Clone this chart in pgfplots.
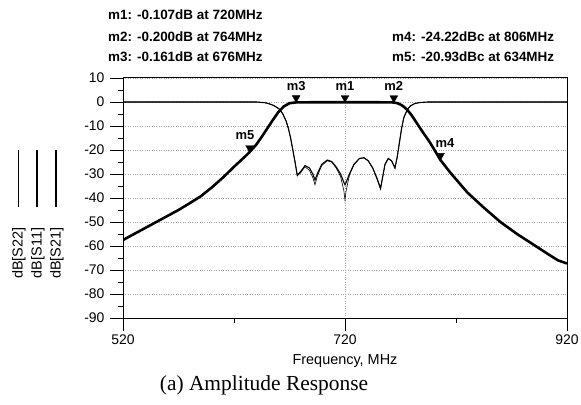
\documentclass[border=0pt]{standalone}
\usepackage{fontspec}
\setmainfont{Liberation Serif}
\setsansfont{Liberation Sans}
\usepackage{pgfplots}
\pgfplotsset{compat=1.18}

% S21: insertion loss (thick)
\pgfplotstableread{
f s21
520 -57.5
530 -55.0
540 -52.5
550 -50.0
560 -47.5
570 -45.0
580 -42.2
590 -39.3
600 -35.6
610 -31.5
620 -27.0
630 -22.7
634 -20.9
640 -17.8
645 -14.5
650 -11.0
655 -7.5
660 -4.2
665 -1.8
670 -0.5
676 -0.16
690 -0.12
720 -0.107
750 -0.12
764 -0.20
768 -0.6
772 -1.6
776 -3.2
780 -5.5
785 -9.0
790 -12.5
796 -16.5
800 -19.5
806 -24.2
815 -29.5
830 -37.6
845 -44.0
860 -50.0
875 -55.0
885 -58.0
895 -61.0
905 -64.0
912 -66.0
920 -67.3
}\sparam

% S11 and S22: return loss (thin)
\pgfplotstableread{
f s11 s22
520 0 0
640 0 0
648 -0.3 -0.3
652 -0.8 -0.8
656 -1.5 -1.5
661 -3.0 -3.0
664 -5.0 -5.0
667 -8.0 -8.0
669 -11.0 -11.0
671 -15.0 -15.0
673 -20.0 -20.0
675 -25.0 -25.0
677 -30.5 -30.8
680 -29.0 -29.5
684 -26.5 -27.0
688 -27.5 -28.5
691 -30.0 -31.5
693 -32.5 -34.5
695 -30.0 -31.0
699 -26.0 -26.5
704 -24.2 -24.5
708 -24.8 -25.0
712 -27.0 -27.5
716 -30.0 -31.0
719 -33.5 -37.0
720 -34.5 -41.0
721 -33.5 -37.0
724 -30.0 -30.5
728 -26.0 -26.2
733 -23.5 -23.6
737 -23.2 -23.3
741 -24.5 -24.6
745 -27.5 -27.6
749 -32.0 -32.3
752 -36.0 -36.3
754 -31.0 -31.2
756 -26.0 -26.2
759 -23.5 -23.6
762 -24.5 -24.6
765 -27.5 -27.6
767 -23.0 -23.0
769 -17.0 -17.0
771 -11.0 -11.0
773 -6.5 -6.5
776 -3.3 -3.3
779 -1.6 -1.6
783 -0.6 -0.6
788 -0.2 -0.2
795 0 0
920 0 0
}\refl

\begin{document}
\begin{tikzpicture}[font=\sffamily]
\path[use as bounding box] (0,0) rectangle (581bp,405bp);
\begin{axis}[
    at={(123bp,87bp)}, anchor=south west,
    scale only axis, width=444bp, height=240bp,
    xmin=520, xmax=920, ymin=-90, ymax=10,
    xtick={520,720,920}, minor xtick={620,820},
    ytick={-90,-80,...,10}, minor ytick={-85,-75,...,5},
    tick align=outside, xtick pos=bottom, ytick pos=left,
    major tick length=13bp, minor tick length=5bp,
    every tick/.append style={black, line width=0.8pt},
    grid=major, grid style={gray!70, dotted, line width=0.6pt},
    axis line style={line width=1pt},
    /pgf/number format/assume math mode=true,
    ticklabel style={font=\sffamily\fontsize{14}{16}\selectfont},
    yticklabel style={xshift=-2bp},
    xlabel={Frequency, MHz},
    xlabel style={font=\sffamily\fontsize{14.5}{16}\selectfont,
        at={(axis description cs:0.5,-0.179)}, anchor=center},
    clip mode=individual,
]
    \addplot[black, line width=0.6pt] table[x=f, y=s22] {\refl};
    \addplot[black, line width=1.1pt] table[x=f, y=s11] {\refl};
    \addplot[black, line width=2.6pt, line join=round] table[x=f, y=s21] {\sparam};
    % markers m1..m5
    \addplot[only marks, mark=triangle*, mark size=4.5pt,
        mark options={yshift=4.5pt, rotate=180, fill=black},
        nodes near coords, point meta=explicit symbolic,
        every node near coord/.style={font=\sffamily\bfseries\fontsize{13}{15}\selectfont,
            anchor=south, yshift=6.5pt, inner sep=1pt}]
        coordinates {(720,-0.107) [m1] (764,-0.200) [m2] (676,-0.161) [m3]};
    \addplot[only marks, mark=triangle*, mark size=4.5pt,
        mark options={yshift=4.5pt, rotate=180, fill=black},
        nodes near coords, point meta=explicit symbolic,
        every node near coord/.style={font=\sffamily\bfseries\fontsize{13}{15}\selectfont,
            anchor=south east, xshift=6pt, yshift=6.5pt, inner sep=1pt}]
        coordinates {(634,-20.93) [m5]};
    \addplot[only marks, mark=triangle*, mark size=4.5pt,
        mark options={yshift=4.5pt, rotate=180, fill=black},
        nodes near coords, point meta=explicit symbolic,
        every node near coord/.style={font=\sffamily\bfseries\fontsize{13}{15}\selectfont,
            anchor=south west, xshift=-6pt, yshift=6.5pt, inner sep=1pt}]
        coordinates {(806,-24.22) [m4]};
\end{axis}

% marker readouts
\begin{scope}[every node/.style={anchor=west, inner sep=0pt,
        font=\sffamily\bfseries\fontsize{13.5}{15}\selectfont}]
    \node at (108bp,390bp) {m1: -0.107dB at 720MHz};
    \node at (108bp,368bp) {m2: -0.200dB at 764MHz};
    \node at (108bp,348bp) {m3: -0.161dB at 676MHz};
    \node at (392bp,368bp) {m4: -24.22dBc at 806MHz};
    \node at (392bp,348bp) {m5: -20.93dBc at 634MHz};
\end{scope}

% rotated legend
\draw[line width=0.6pt] (18bp,198bp) -- (18bp,255bp);
\draw[line width=1.2pt] (37bp,198bp) -- (37bp,255bp);
\draw[line width=2.5pt] (56bp,198bp) -- (56bp,255bp);
\begin{scope}[every node/.style={rotate=90, inner sep=0pt,
        font=\sffamily\fontsize{14.5}{16}\selectfont}]
    \node at (19bp,152bp) {dB[S22]};
    \node at (38bp,152bp) {dB[S11]};
    \node at (57bp,152bp) {dB[S21]};
\end{scope}

\node[font=\rmfamily\fontsize{21.5}{25}\selectfont] at (264bp,20bp) {(a) Amplitude Response};
\end{tikzpicture}
\end{document}
